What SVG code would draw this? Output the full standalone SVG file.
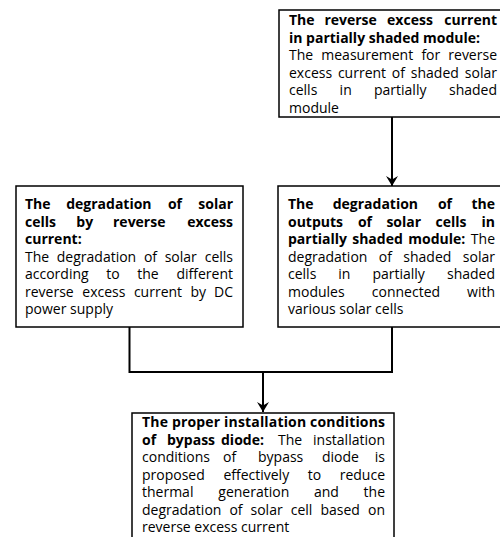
<svg xmlns="http://www.w3.org/2000/svg" width="500" height="537" viewBox="0 0 500 537">
<defs>
<style>
text{font-family:"Open Sans","Noto Sans","DejaVu Sans",sans-serif;font-size:14px;fill:#000}
.b{font-weight:bold}
.e{text-anchor:end}
.box{fill:#fff;stroke:#000;stroke-width:1.5}
.conn{fill:none;stroke:#000;stroke-width:2}
</style>
<marker id="arr" viewBox="0 0 12 14" refX="11.5" refY="7" markerWidth="12" markerHeight="14" markerUnits="userSpaceOnUse" orient="auto">
<path d="M1.5,1 L11.5,7 L1.5,13 L5,7 Z" fill="#000"/>
</marker>
</defs>
<rect width="500" height="537" fill="#fff"/>
<g id="connectors">
<path class="conn" d="M392,117 V186" marker-end="url(#arr)"/>
<path class="conn" d="M129.5,327 V372 H392 V327"/>
<path class="conn" d="M263,372 V412" marker-end="url(#arr)"/>
</g>
<g id="node-reverse-current">
<rect class="box" x="279" y="10" width="227" height="107"/>
<text y="25" class="b"><tspan x="289">The</tspan><tspan x="324.4">reverse</tspan><tspan x="387.1">excess</tspan><tspan x="497" class="e">current</tspan></text>
<text y="42.5" class="b" x="289">in partially shaded module:</text>
<text y="60"><tspan x="289">The</tspan><tspan x="321.3">measurement</tspan><tspan x="421.4">for</tspan><tspan x="497" class="e">reverse</tspan></text>
<text y="77.5"><tspan x="289">excess</tspan><tspan x="337.9">current</tspan><tspan x="391.8">of</tspan><tspan x="410.8">shaded</tspan><tspan x="497" class="e">solar</tspan></text>
<text y="95"><tspan x="289">cells</tspan><tspan x="339.6">in</tspan><tspan x="374">partially</tspan><tspan x="497" class="e">shaded</tspan></text>
<text y="112.5" x="289">module</text>
</g>
<g id="node-degradation-reverse">
<rect class="box" x="16" y="186" width="227" height="141"/>
<text y="209" class="b"><tspan x="25">The</tspan><tspan x="66.2">degradation</tspan><tspan x="167.9">of</tspan><tspan x="233" class="e">solar</tspan></text>
<text y="226.5" class="b"><tspan x="25">cells</tspan><tspan x="76.3">by</tspan><tspan x="113">reverse</tspan><tspan x="233" class="e">excess</tspan></text>
<text y="244" class="b" x="25">current:</text>
<text y="261.5"><tspan x="25">The</tspan><tspan x="56.8">degradation</tspan><tspan x="143.9">of</tspan><tspan x="164.7">solar</tspan><tspan x="233" class="e">cells</tspan></text>
<text y="279"><tspan x="25">according</tspan><tspan x="106.3">to</tspan><tspan x="137.3">the</tspan><tspan x="233" class="e">different</tspan></text>
<text y="296.5"><tspan x="25">reverse</tspan><tspan x="82.3">excess</tspan><tspan x="133.9">current</tspan><tspan x="190.5">by</tspan><tspan x="233" class="e">DC</tspan></text>
<text y="314" x="25">power supply</text>
</g>
<g id="node-degradation-outputs">
<rect class="box" x="278" y="186" width="228" height="141"/>
<text y="209" class="b"><tspan x="288">The</tspan><tspan x="332.7">degradation</tspan><tspan x="437.9">of</tspan><tspan x="495" class="e">the</tspan></text>
<text y="226.5" class="b"><tspan x="288">outputs</tspan><tspan x="357.9">of</tspan><tspan x="386.4">solar</tspan><tspan x="435.6">cells</tspan><tspan x="495" class="e">in</tspan></text>
<text y="244"><tspan x="288" class="b">partially</tspan><tspan x="352.2" class="b">shaded</tspan><tspan x="408.3" class="b">module:</tspan><tspan x="495" class="e">The</tspan></text>
<text y="261.5"><tspan x="288">degradation</tspan><tspan x="378.8">of</tspan><tspan x="403.3">shaded</tspan><tspan x="495" class="e">solar</tspan></text>
<text y="279"><tspan x="288">cells</tspan><tspan x="338.3">in</tspan><tspan x="372.4">partially</tspan><tspan x="495" class="e">shaded</tspan></text>
<text y="296.5"><tspan x="288">modules</tspan><tspan x="371.8">connected</tspan><tspan x="495" class="e">with</tspan></text>
<text y="314" x="288">various solar cells</text>
</g>
<g id="node-bypass-diode">
<rect class="box" x="132" y="413" width="262" height="140"/>
<text y="427" x="142" class="b" textLength="243" lengthAdjust="spacing">The proper installation conditions</text>
<text y="444.5"><tspan x="142" class="b">of</tspan><tspan x="167" class="b">bypass</tspan><tspan x="221" class="b">diode:</tspan><tspan x="278">The</tspan><tspan x="385" class="e">installation</tspan></text>
<text y="462"><tspan x="142">conditions</tspan><tspan x="223">of</tspan><tspan x="258">bypass</tspan><tspan x="322">diode</tspan><tspan x="385" class="e">is</tspan></text>
<text y="479.5"><tspan x="142">proposed</tspan><tspan x="223.4">effectively</tspan><tspan x="307.8">to</tspan><tspan x="385" class="e">reduce</tspan></text>
<text y="497"><tspan x="142">thermal</tspan><tspan x="218.3">generation</tspan><tspan x="314">and</tspan><tspan x="385" class="e">the</tspan></text>
<text y="514.5"><tspan x="142">degradation</tspan><tspan x="229.4">of</tspan><tspan x="250.5">solar</tspan><tspan x="290.7">cell</tspan><tspan x="320.4">based</tspan><tspan x="385" class="e">on</tspan></text>
<text y="532" x="142">reverse excess current</text>
</g>
</svg>
